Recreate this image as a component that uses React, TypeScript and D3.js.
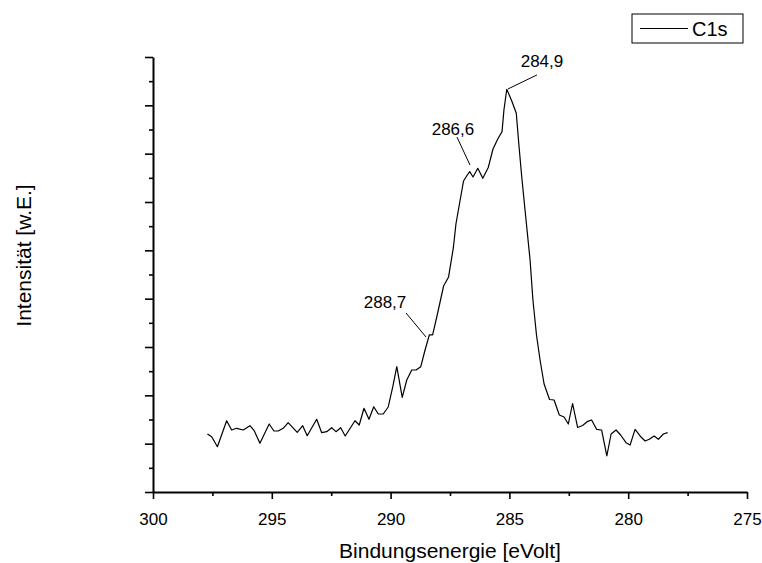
import React, { useEffect, useRef } from "react";
import * as d3 from "d3";

// C1s spectrum (binding energy in eV, intensity in arbitrary counts)
const energy = [
  297.71, 297.53, 297.29, 296.9, 296.69, 296.48, 296.2, 295.92, 295.74, 295.5,
  295.11, 294.91, 294.73, 294.52, 294.31, 293.93, 293.7, 293.51, 293.11, 292.9,
  292.69, 292.48, 292.3, 292.1, 291.91, 291.5, 291.32, 291.12, 290.91, 290.71,
  290.52, 290.31, 290.1, 289.91, 289.74, 289.51, 289.32, 289.11, 288.93, 288.73,
  288.55, 288.37, 288.23, 288.01, 287.77, 287.56, 287.36, 287.25, 287.08, 286.93,
  286.8, 286.67, 286.53, 286.33, 286.12, 285.89, 285.69, 285.49, 285.31, 285.23,
  285.11, 284.9, 284.71, 284.6, 284.48, 284.3, 284.13, 284.01, 283.86, 283.71,
  283.54, 283.31, 283.12, 282.9, 282.7, 282.52, 282.34, 282.13, 281.92, 281.73,
  281.54, 281.33, 281.12, 280.9, 280.72, 280.51, 280.32, 280.09, 279.92, 279.71,
  279.5, 279.29, 279.11, 278.91, 278.73, 278.52, 278.34,
];
const intensity = [
  1200, 1144, 937, 1475, 1283, 1318, 1283, 1372, 1268, 1008,
  1407, 1262, 1262, 1318, 1434, 1235, 1372, 1165, 1504, 1227,
  1248, 1330, 1248, 1330, 1159, 1475, 1386, 1732, 1504, 1765,
  1614, 1614, 1759, 2173, 2593, 1959, 2317, 2524, 2524, 2593,
  2938, 3249, 3249, 3724, 4262, 4449, 5049, 5545, 6021, 6435,
  6538, 6627, 6518, 6698, 6491, 6714, 7097, 7304, 7455, 7904,
  8332, 8090, 7836, 7180, 6518, 5628, 4800, 3973, 3249, 2731,
  2235, 1914, 1904, 1593, 1552, 1407, 1831, 1335, 1376, 1455,
  1490, 1297, 1283, 745, 1200, 1283, 1179, 1020, 972, 1297,
  1159, 1055, 1090, 1159, 1090, 1200, 1227,
];

const xTicks = [300, 295, 290, 285, 280, 275];
const peakLabels = ["288,7", "286,6", "284,9"];
const peakEnergy = [288.51, 286.66, 285.06];
const peakIntensity = [3207, 6766, 8339];

const App = () => {
  const ref = useRef(null);

  useEffect(() => {
    const width = 762;
    const height = 563;
    const left = 153;
    const right = 747;
    const top = 57;
    const bottom = 492;
    const font = "Liberation Sans, Arial, sans-serif";

    const x = d3.scaleLinear().domain([300, 275]).range([left, right]);
    const y = d3.scaleLinear().domain([0, 9000]).range([bottom, top]);

    const svg = d3.select(ref.current).attr("width", width).attr("height", height);
    svg.selectAll("*").remove();
    svg.append("rect").attr("width", width).attr("height", height).attr("fill", "#fff");

    // minor ticks first, then major ticks + axis line
    const xMinor = d3.axisBottom(x).tickValues(d3.range(297.5, 275, -5)).tickSize(4).tickFormat(() => "");
    svg.append("g")
      .attr("transform", `translate(0, ${bottom})`)
      .call(xMinor)
      .call((g) => g.select(".domain").remove())
      .call((g) => g.selectAll("line").attr("stroke-width", 1.6));

    svg.append("g")
      .attr("transform", `translate(0, ${bottom})`)
      .call(d3.axisBottom(x).tickValues(xTicks).tickSize(7).tickSizeOuter(0).tickPadding(14))
      .call((g) => g.select(".domain").attr("stroke-width", 2))
      .call((g) => g.selectAll("line").attr("stroke-width", 1.6))
      .call((g) =>
        g.selectAll("text").attr("font-family", font).attr("font-size", 17).attr("fill", "#000")
      );

    const yMinor = d3.axisLeft(y).tickValues(d3.range(500, 9000, 1000)).tickSize(4).tickFormat(() => "");
    svg.append("g")
      .attr("transform", `translate(${left}, 0)`)
      .call(yMinor)
      .call((g) => g.select(".domain").remove())
      .call((g) => g.selectAll("line").attr("stroke-width", 1.6));

    svg.append("g")
      .attr("transform", `translate(${left}, 0)`)
      .call(d3.axisLeft(y).tickValues(d3.range(0, 9001, 1000)).tickSize(8).tickSizeOuter(0).tickFormat(() => ""))
      .call((g) => g.select(".domain").attr("stroke-width", 2))
      .call((g) => g.selectAll("line").attr("stroke-width", 1.6));

    // axis titles
    svg.append("text")
      .attr("x", (left + right) / 2)
      .attr("y", 558)
      .attr("text-anchor", "middle")
      .attr("font-family", font)
      .attr("font-size", 21)
      .text("Bindungsenergie [eVolt]");

    svg.append("text")
      .attr("transform", `translate(31, ${(top + bottom) / 2 - 19}) rotate(-90)`)
      .attr("text-anchor", "middle")
      .attr("font-family", font)
      .attr("font-size", 21)
      .text("Intensität [w.E.]");

    // spectrum
    const line = d3
      .line()
      .x((d) => x(d[0]))
      .y((d) => y(d[1]));
    svg.append("path")
      .datum(energy.map((e, i) => [e, intensity[i]]))
      .attr("d", line)
      .attr("fill", "none")
      .attr("stroke", "#000")
      .attr("stroke-width", 1.2)
      .attr("stroke-linejoin", "round");

    // peak annotations: leader end offset and text offset per label
    const leader = [[-20, -24], [-13, -28], [29, -14]];
    const textAt = [[-41, -29], [-17, -30], [34, -22]];
    peakLabels.forEach((label, i) => {
      const px = x(peakEnergy[i]);
      const py = y(peakIntensity[i]);
      svg.append("line")
        .attr("x1", px)
        .attr("y1", py)
        .attr("x2", px + leader[i][0])
        .attr("y2", py + leader[i][1])
        .attr("stroke", "#000")
        .attr("stroke-width", 1);
      svg.append("text")
        .attr("x", px + textAt[i][0])
        .attr("y", py + textAt[i][1])
        .attr("text-anchor", "middle")
        .attr("font-family", font)
        .attr("font-size", 17)
        .text(label);
    });

    // legend
    const lg = svg.append("g").attr("transform", "translate(632, 14)");
    lg.append("rect")
      .attr("width", 111)
      .attr("height", 29)
      .attr("fill", "#fff")
      .attr("stroke", "#000")
      .attr("stroke-width", 1);
    lg.append("line")
      .attr("x1", 8)
      .attr("x2", 56)
      .attr("y1", 14.5)
      .attr("y2", 14.5)
      .attr("stroke", "#000")
      .attr("stroke-width", 1.2);
    lg.append("text")
      .attr("x", 60)
      .attr("y", 22)
      .attr("font-family", font)
      .attr("font-size", 20)
      .text("C1s");
  });

  return (
    <div style={{ position: "absolute", left: 0, top: 0 }}>
      <svg ref={ref}></svg>
    </div>
  );
};

export default App;
